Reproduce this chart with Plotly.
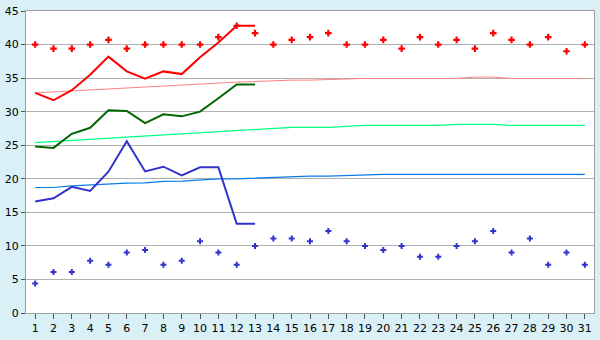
import plotly.graph_objects as go

days = list(range(1, 32))
days_line = list(range(1, 14))

red_points = [40, 39.4, 39.4, 40, 40.7, 39.4, 40, 40, 40, 40, 41.1, 42.8, 41.7, 40, 40.7, 41.1,
              41.7, 40, 40, 40.7, 39.4, 41.1, 40, 40.7, 39.4, 41.7, 40.7, 40, 41.1, 39, 40]
blue_points = [4.4, 6.1, 6.1, 7.8, 7.2, 9.0, 9.4, 7.2, 7.8, 10.7, 9.0, 7.2, 10.0, 11.1, 11.1, 10.7,
               12.2, 10.7, 10.0, 9.4, 10.0, 8.4, 8.4, 10.0, 10.7, 12.2, 9.0, 11.1, 7.2, 9.0, 7.2]

red_line = [32.8, 31.7, 33.2, 35.5, 38.2, 36.0, 34.9, 36.0, 35.6, 38.1, 40.3, 42.8, 42.8]
green_line = [24.8, 24.6, 26.7, 27.6, 30.2, 30.1, 28.3, 29.6, 29.3, 30.0, 32.0, 34.05, 34.05]
blue_line = [16.6, 17.1, 18.8, 18.2, 21.05, 25.6, 21.1, 21.8, 20.5, 21.7, 21.7, 13.3, 13.3]

red_trend = [32.8, 32.95, 33.1, 33.3, 33.45, 33.6, 33.75, 33.9, 34.05, 34.2, 34.35, 34.4, 34.5,
             34.65, 34.7, 34.7, 34.8, 34.95, 34.95, 34.95, 34.95, 34.95, 34.95, 34.95, 35.15, 35.15,
             34.95, 34.95, 34.95, 34.95, 34.95]
green_trend = [25.4, 25.57, 25.74, 25.9, 26.05, 26.2, 26.35, 26.5, 26.7, 26.9, 27.1, 27.24, 27.38,
               27.52, 27.67, 27.67, 27.67, 27.81, 27.95, 27.95, 27.95, 27.95, 27.95, 28.1, 28.1, 28.1,
               27.95, 27.95, 27.95, 27.95, 27.95]
blue_trend = [18.7, 18.7, 18.95, 19.1, 19.15, 19.35, 19.4, 19.6, 19.65, 19.8, 20.0, 20.0, 20.1,
              20.25, 20.4, 20.4, 20.4, 20.5, 20.5, 20.67, 20.67, 20.67, 20.67, 20.67, 20.67, 20.67,
              20.67, 20.67, 20.67, 20.67, 20.67]

y_ticks = [0, 5, 10, 15, 20, 25, 30, 35, 40, 45]

fig = go.Figure()
fig.add_trace(go.Scatter(x=days, y=red_trend, mode="lines", line=dict(color="#FF8080", width=1)))
fig.add_trace(go.Scatter(x=days, y=green_trend, mode="lines", line=dict(color="#00FF80", width=1.2)))
fig.add_trace(go.Scatter(x=days, y=blue_trend, mode="lines", line=dict(color="#0A7CE8", width=1.2)))
fig.add_trace(go.Scatter(x=days_line, y=red_line, mode="lines", line=dict(color="#FF0000", width=2)))
fig.add_trace(go.Scatter(x=days_line, y=green_line, mode="lines", line=dict(color="#006600", width=2)))
fig.add_trace(go.Scatter(x=days_line, y=blue_line, mode="lines", line=dict(color="#3333CC", width=2)))
fig.add_trace(go.Scatter(x=days, y=red_points, mode="markers",
                         marker=dict(symbol="cross", size=5.5, color="#FF0000", line=dict(width=0))))
fig.add_trace(go.Scatter(x=days, y=blue_points, mode="markers",
                         marker=dict(symbol="cross", size=5, color="#3333CC", line=dict(width=0))))

fig.update_layout(
    width=600, height=340,
    margin=dict(l=21, r=5, t=5, b=20),
    paper_bgcolor="#D9F0F6",
    plot_bgcolor="#FFFFFF",
    showlegend=False,
    font=dict(family="DejaVu Sans, Verdana, sans-serif", size=11, color="#000000"),
)
fig.update_xaxes(
    range=[0.5, 31.5], tickmode="array", tickvals=days, ticktext=[str(d) for d in days],
    showgrid=False, zeroline=False, showline=True, linecolor="#A0A0A0", linewidth=1,
    ticks="outside", ticklen=5, tickcolor="#505050", mirror=True, tickfont=dict(size=11),
    ticklabeloverflow="allow",
)
fig.update_yaxes(
    range=[0, 45], tickmode="array", tickvals=y_ticks, ticktext=[str(v) for v in y_ticks],
    showgrid=True, gridcolor="#B0B0B0", gridwidth=1, zeroline=False,
    showline=True, linecolor="#A0A0A0", linewidth=1, mirror=True,
    ticks="outside", ticklen=4, tickcolor="#505050", tickfont=dict(size=11),
    ticklabeloverflow="allow",
)
fig.write_html("out.html")
